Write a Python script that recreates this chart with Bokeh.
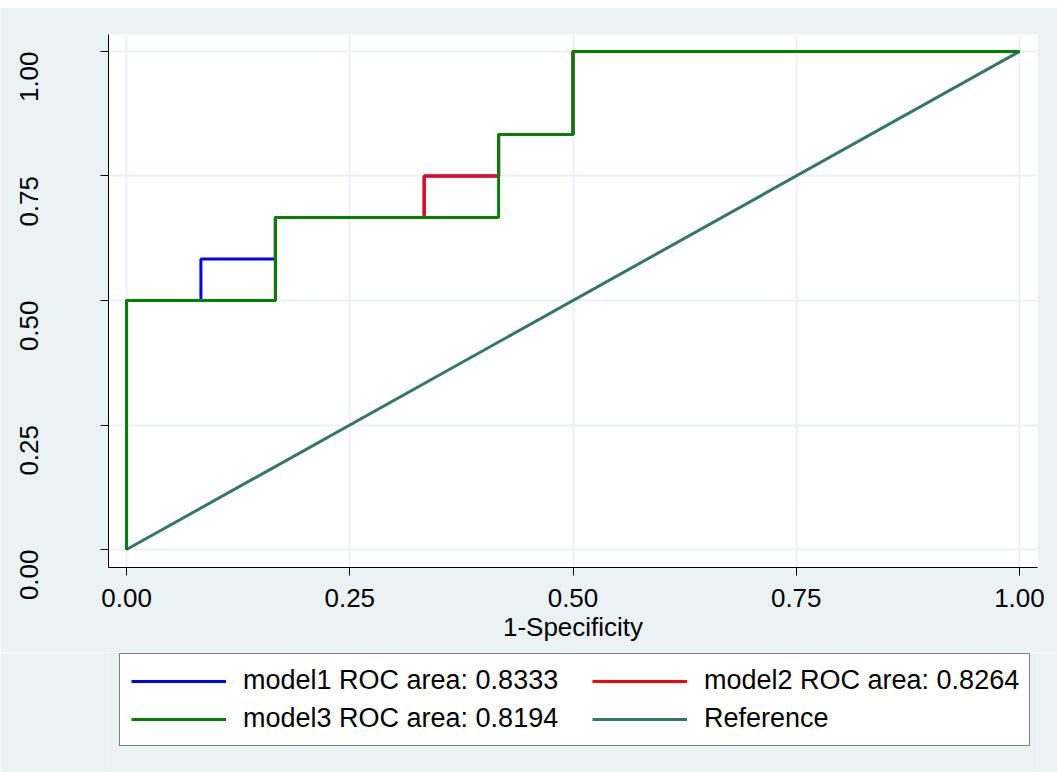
import math
from bokeh.plotting import figure
from bokeh.layouts import column
from bokeh.models import Range1d, FixedTicker, Legend, LegendItem
from bokeh.embed import file_html
from bokeh.resources import INLINE

# ROC vertices (1-Specificity, Sensitivity)
m1_fpr = [0.0, 0.0, 0.0833, 0.0833, 0.1667, 0.1667, 0.3333, 0.3333, 0.4167, 0.4167, 0.5, 0.5, 1.0]
m1_tpr = [0.0, 0.5, 0.5, 0.5833, 0.5833, 0.6667, 0.6667, 0.75, 0.75, 0.8333, 0.8333, 1.0, 1.0]
m2_fpr = [0.0, 0.0, 0.1667, 0.1667, 0.3333, 0.3333, 0.4167, 0.4167, 0.5, 0.5, 1.0]
m2_tpr = [0.0, 0.5, 0.5, 0.6667, 0.6667, 0.75, 0.75, 0.8333, 0.8333, 1.0, 1.0]
m3_fpr = [0.0, 0.0, 0.1667, 0.1667, 0.4167, 0.4167, 0.5, 0.5, 1.0]
m3_tpr = [0.0, 0.5, 0.5, 0.6667, 0.6667, 0.8333, 0.8333, 1.0, 1.0]
ref_x = [0.0, 1.0]
ref_y = [0.0, 1.0]

tick_values = [0.0, 0.25, 0.5, 0.75, 1.0]
tick_labels = ["0.00", "0.25", "0.50", "0.75", "1.00"]
x_title = "1-Specificity"
legend_labels = ["model1 ROC area: 0.8333", "model2 ROC area: 0.8264",
                 "model3 ROC area: 0.8194", "Reference"]
series_colors = ["#0000FF", "#FF0000", "#008000", "#35756B"]
series_xy = [(m1_fpr, m1_tpr), (m2_fpr, m2_tpr), (m3_fpr, m3_tpr), (ref_x, ref_y)]

BG = "#EAF2F3"
FONT = "Liberation Sans"
FS = "26px"
LFS = "27px"
LW = 3

p = figure(width=1057, height=645,
           x_range=Range1d(-0.0202, 1.0202), y_range=Range1d(-0.0361, 1.0341),
           output_backend="svg", toolbar_location=None,
           min_border_left=108, min_border_right=20, min_border_top=27, min_border_bottom=85,
           background_fill_color="white", border_fill_color=BG, outline_line_color=None)

r_ref = p.line(ref_x, ref_y, line_color=series_colors[3], line_width=LW)
r1 = p.line(m1_fpr, m1_tpr, line_color=series_colors[0], line_width=LW)
r2 = p.line(m2_fpr, m2_tpr, line_color=series_colors[1], line_width=LW)
r3 = p.line(m3_fpr, m3_tpr, line_color=series_colors[2], line_width=LW)

overrides = {v: l for v, l in zip(tick_values, tick_labels)}
for ax in (p.xaxis[0], p.yaxis[0]):
    ax.ticker = FixedTicker(ticks=tick_values)
    ax.major_label_overrides = overrides
    ax.minor_tick_line_color = None
    ax.major_tick_out = 8
    ax.major_tick_in = 0
    ax.axis_line_color = "black"
    ax.axis_line_width = 1
    ax.major_tick_line_color = "black"
    ax.major_label_text_font = FONT
    ax.major_label_text_font_size = FS
    ax.major_label_text_color = "black"

p.yaxis[0].major_label_orientation = math.pi / 2
p.yaxis[0].major_label_standoff = 71
p.xaxis[0].major_label_standoff = 13
p.xaxis[0].axis_label = x_title
p.xaxis[0].axis_label_text_font = FONT
p.xaxis[0].axis_label_text_font_size = FS
p.xaxis[0].axis_label_text_font_style = "normal"
p.xaxis[0].axis_label_text_color = "black"
p.xaxis[0].axis_label_standoff = 2

p.grid.grid_line_color = BG
p.grid.grid_line_width = 2

# legend panel underneath the plot (its series are drawn outside its view)
p2 = figure(width=1057, height=120, x_range=Range1d(5, 6), y_range=Range1d(5, 6),
            output_backend="svg", toolbar_location=None,
            x_axis_location=None, y_axis_location=None,
            min_border_left=108, min_border_right=20, min_border_top=0, min_border_bottom=0,
            background_fill_color=BG, border_fill_color=BG, outline_line_color=None)
p2.grid.visible = False
lr = [p2.line(xs, ys, line_color=c, line_width=LW) for (xs, ys), c in zip(series_xy, series_colors)]

common = dict(label_text_font=FONT, label_text_font_size=LFS, label_text_color="black",
              glyph_width=95, glyph_height=30, label_height=30, label_standoff=17,
              padding=11, spacing=7, margin=0, click_policy="none")

leg1 = Legend(items=[LegendItem(label=legend_labels[0], renderers=[lr[0]]),
                     LegendItem(label=legend_labels[2], renderers=[lr[2]])],
              location=(11, 26), label_width=775,
              border_line_color="black", border_line_width=1,
              background_fill_color="white", background_fill_alpha=1.0, **common)
leg2 = Legend(items=[LegendItem(label=legend_labels[1], renderers=[lr[1]]),
                     LegendItem(label=legend_labels[3], renderers=[lr[3]])],
              location=(484, 38),
              border_line_color=None, background_fill_alpha=0.0, **common)
p2.add_layout(leg1)
p2.add_layout(leg2)

layout = column(p, p2, spacing=0, margin=(7, 0, 0, 0))
open("out.html", "w").write(file_html(layout, INLINE))
